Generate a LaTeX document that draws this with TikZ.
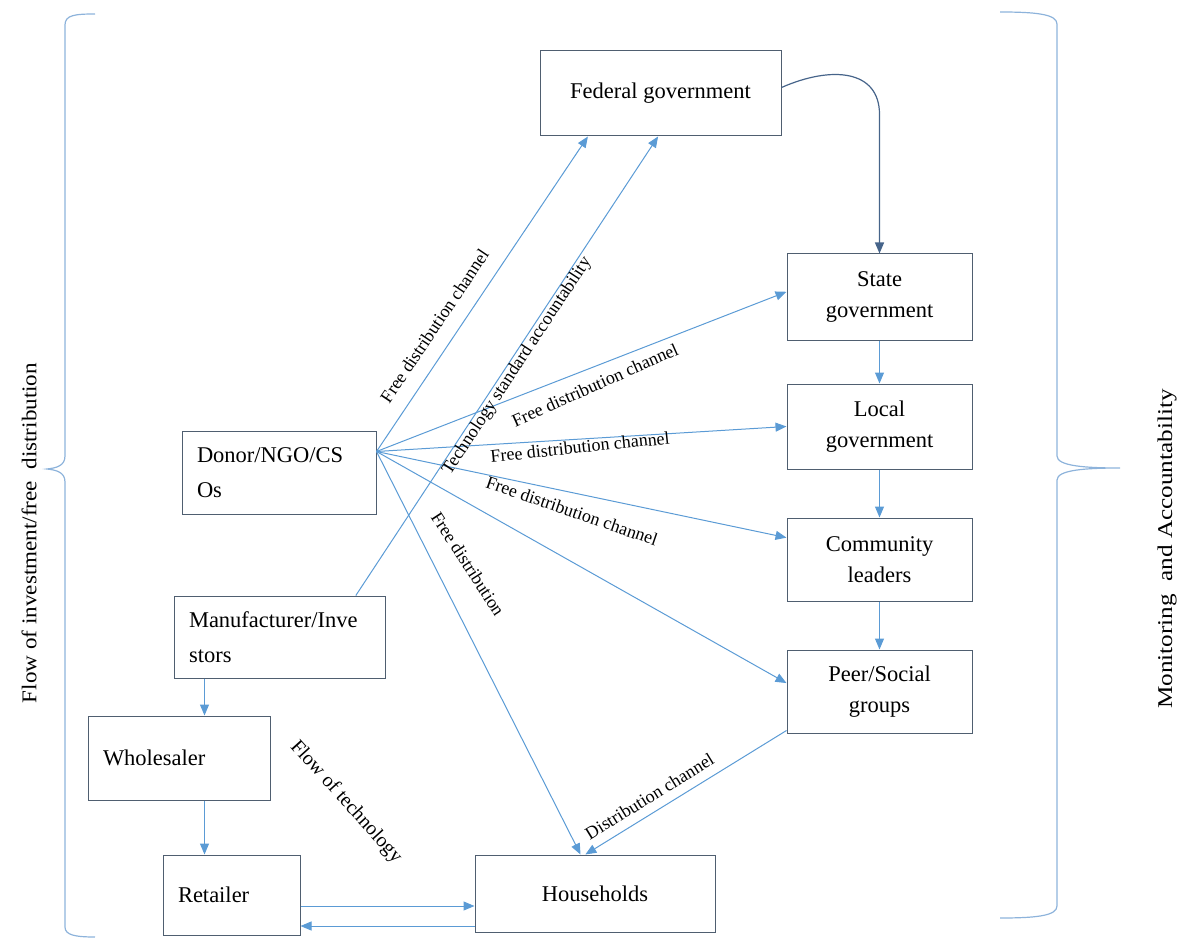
\documentclass[tikz,border=0pt]{standalone}
\usepackage{fontspec}
\setmainfont{Liberation Serif}
\usetikzlibrary{arrows.meta,calc}
\definecolor{arrblue}{HTML}{5B9BD5}
\definecolor{boxline}{HTML}{4F5E70}
\definecolor{bracecol}{HTML}{8DB3DB}
\definecolor{curvecol}{HTML}{46648A}
\begin{document}
\begin{tikzpicture}[x=1pt,y=-1pt,
  boxc/.style={draw=boxline,line width=1pt,align=center,inner sep=0pt,
    font=\fontsize{22.5}{31}\selectfont},
  boxl/.style={draw=boxline,line width=1pt,align=left,inner xsep=15pt,inner ysep=0pt,
    font=\fontsize{22.5}{35}\selectfont},
  arr/.style={draw=arrblue,line width=1pt,-{Triangle[length=11pt,width=9pt]}},
  lab/.style={font=\fontsize{18}{20}\selectfont,inner sep=1pt},
  brace/.style={draw=bracecol,line width=1.2pt},
  sidelab/.style={font=\fontsize{21}{24}\selectfont,rotate=90}
]
\useasboundingbox (0,0) rectangle (1180,941);

% boxes
\node[boxc,minimum width=241pt,minimum height=85pt] (fed) at (660.5,93.5) {Federal government};
\node[boxc,minimum width=185pt,minimum height=86pt] (state) at (879.5,297) {State\\government};
\node[boxc,minimum width=185pt,minimum height=85pt] (local) at (879.5,426.5) {Local\\government};
\node[boxc,minimum width=185pt,minimum height=83pt] (comm) at (879.5,559.5) {Community\\leaders};
\node[boxc,minimum width=185pt,minimum height=83pt] (peer) at (879.5,691.5) {Peer/Social\\groups};
\node[boxc,minimum width=240pt,minimum height=77pt] (house) at (595,893.5) {Households};
\node[boxl,text width=164pt,minimum height=83pt] (donor) at (279,472.5) {Donor/NGO/CS\\Os};
\node[boxl,text width=181pt,minimum height=82pt] (manu) at (279.5,637) {Manufacturer/Inve\\stors};
\node[boxl,text width=152pt,minimum height=84pt] (whole) at (179,758) {Wholesaler};
\node[boxl,text width=107pt,minimum height=80pt] (ret) at (231.5,895) {Retailer};

% fan origin
\coordinate (fan) at ($(donor.north east)!0.25!(donor.south east)$);

% fan arrows
\draw[arr] (fan) -- ($(fed.south west)!0.2!(fed.south east)$)
  node[lab,sloped,above=14pt,pos=0.36] (l1) {Free distribution channel};
\draw[arr] (fan) -- ($(state.north west)!0.44!(state.south west)$);
\draw[arr] (fan) -- (local.west);
\draw[arr] (fan) -- ($(comm.north west)!0.24!(comm.south west)$);
\draw[arr] (fan) -- ($(peer.north west)!0.4!(peer.south west)$);
\draw[arr] (fan) -- ($(house.north west)!0.44!(house.north east)$);

\node[lab,rotate=24] (l2) at (595,385) {Free distribution channel};
\node[lab,rotate=6] (l3) at (580,447) {Free distribution channel};
\node[lab,rotate=-19] (l4) at (572,511) {Free distribution channel};
\node[lab,rotate=-57] (l5) at (468,564) {Free distribution};

% manufacturer to federal
\coordinate (mtop) at ($(manu.north west)!0.86!(manu.north east)$);
\draw[arr] (mtop) -- ($(fed.south west)!0.49!(fed.south east)$)
  node[lab,sloped,below=0pt,inner sep=0pt,pos=0.51] (l6) {Technology standard accountability};

% federal to state curve
\draw[draw=curvecol,line width=1.2pt,-{Triangle[length=11pt,width=9pt]}]
  ([yshift=6pt]fed.east) .. controls +(50,-22) and +(0,-45) .. ($(state.north)+(0,-139)$) -- (state.north);

% vertical chain
\draw[arr] (state.south) -- (local.north);
\draw[arr] (local.south) -- (comm.north);
\draw[arr] (comm.south) -- (peer.north);

% peer to households
\draw[arr] ([yshift=3pt]peer.south west) -- ($(house.north west)!0.46!(house.north east)$)
  node[lab,sloped,above=8pt,pos=0.64,font=\fontsize{18}{20}\selectfont] (l7) {Distribution channel};

% supply chain
\draw[arr] ([xshift=31pt]manu.south west) -- ([xshift=31pt]manu.south west |- whole.north);
\draw[arr] ([xshift=117pt]whole.south west) -- ([xshift=117pt]whole.south west |- ret.north);
\draw[arr] ([yshift=-11pt]ret.east) -- ([yshift=-11pt]ret.east -| house.west);
\draw[arr] ([yshift=-31pt]ret.east -| house.west) -- ([yshift=-31pt]ret.east);

\node[lab,rotate=-48,font=\fontsize{20}{22}\selectfont] (flowtech) at (346,802) {Flow of technology};

% braces
\draw[brace] (95,14) .. controls (75,14) and (65,15) .. (65,25) -- (65,456)
  .. controls (65,466) and (56,468) .. (47,469) .. controls (56,470) and (65,472) .. (65,482)
  -- (65,927) .. controls (65,935) and (75,937) .. (95,937);
\draw[brace] (1000,12) .. controls (1035,12) and (1057,14) .. (1057,24) -- (1057,456)
  .. controls (1057,466) and (1085,468) .. (1120,468) .. controls (1085,468) and (1057,470) .. (1057,480)
  -- (1057,906) .. controls (1057,916) and (1035,918) .. (1000,918);

\node[sidelab] (leftlab) at (29,533) {\scalebox{1.1}[1]{Flow of investment/free\ \ distribution}};
\node[sidelab] (rightlab) at (1167,549) {\scalebox{1.2}[1]{Monitoring\ \ and Accountability}};
\end{tikzpicture}
\end{document}
